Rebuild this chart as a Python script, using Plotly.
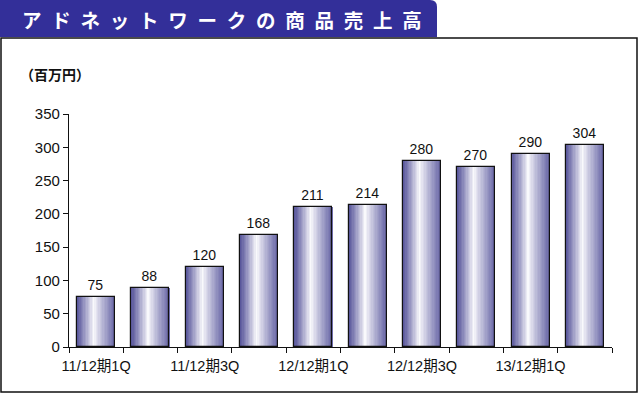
import plotly.graph_objects as go

categories = ["11/12期1Q", "11/12期2Q", "11/12期3Q", "11/12期4Q", "12/12期1Q",
              "12/12期2Q", "12/12期3Q", "12/12期4Q", "13/12期1Q", "13/12期2Q"]
values = [75, 88, 120, 168, 211, 214, 280, 270, 290, 304]
tick_labels = ["11/12期1Q", "", "11/12期3Q", "", "12/12期1Q",
               "", "12/12期3Q", "", "13/12期1Q", ""]
y_ticks = [0, 50, 100, 150, 200, 250, 300, 350]

W, H = 639, 394
L, R, T, B = 69, 27, 114, 47
PW, PH = W - L - R, H - T - B

def px(x):
    return (x - L) / PW

def py(y):
    return (H - B - y) / PH

def lerp(c1, c2, t):
    return tuple(round(a + (b - a) * t) for a, b in zip(c1, c2))

left_c = (84, 82, 152)
mid_c = (250, 250, 253)
right_c = (104, 102, 166)
white_pos = 0.45

fig = go.Figure()

bar_w = 0.70
N = 28
band = bar_w / N
for i in range(N):
    t = (i + 0.5) / N
    if t < white_pos:
        c = lerp(left_c, mid_c, (t / white_pos) ** 1.1)
    else:
        c = lerp(mid_c, right_c, ((t - white_pos) / (1 - white_pos)) ** 0.9)
    fig.add_trace(go.Bar(
        x=categories, y=values,
        width=band * 1.08, offset=-bar_w / 2 + i * band,
        marker=dict(color="rgb(%d,%d,%d)" % c, line=dict(width=0)),
        hoverinfo="skip", showlegend=False,
    ))

fig.add_trace(go.Bar(
    x=categories, y=values, width=bar_w, offset=-bar_w / 2,
    marker=dict(color="rgba(0,0,0,0)", line=dict(color="#111111", width=1.2)),
    text=[str(v) for v in values], textposition="outside",
    textfont=dict(size=14, color="#111111", family="Liberation Sans, Arial"),
    cliponaxis=False, showlegend=False,
))

shapes = [
    # outer frame
    dict(type="rect", xref="paper", yref="paper",
         x0=px(1), x1=px(637), y0=py(392), y1=py(38),
         line=dict(color="#111111", width=1.5), fillcolor="rgba(0,0,0,0)", layer="below"),
    # title banner with rounded top-right corner
    dict(type="path", xref="paper", yref="paper",
         path="M %f,%f L %f,%f L %f,%f Q %f,%f %f,%f L %f,%f Z" % (
             px(0), py(37), px(0), py(0), px(430), py(0),
             px(437), py(0), px(437), py(7), px(437), py(37)),
         fillcolor="#332f99", line=dict(width=0)),
]

annotations = [
    dict(text="<b>ア ド ネ ッ ト ワ ー ク の 商 品 売 上 高</b>".replace(" ", "\u2002"),
         xref="paper", yref="paper", x=px(20), y=py(19), xanchor="left", yanchor="middle",
         showarrow=False, font=dict(size=19.5, color="white", family="Noto Sans CJK JP")),
    dict(text="<b>（百万円）</b>", xref="paper", yref="paper",
         x=px(18), y=py(74), xanchor="left", yanchor="middle", showarrow=False,
         font=dict(size=14, color="#111111", family="Noto Sans CJK JP")),
]

fig.update_layout(
    width=W, height=H,
    margin=dict(l=L, r=R, t=T, b=B, autoexpand=False),
    paper_bgcolor="white", plot_bgcolor="white",
    barmode="overlay", bargap=0,
    shapes=shapes, annotations=annotations,
    font=dict(family="Liberation Sans, Noto Sans CJK JP", color="#111111"),
    xaxis=dict(
        type="category", tickmode="array", tickvals=categories, ticktext=tick_labels,
        tickson="boundaries", ticks="outside", ticklen=5, tickcolor="#111111",
        showline=True, linecolor="#111111", linewidth=1.2, showgrid=False,
        tickangle=0, automargin=False, ticklabelstandoff=5,
        tickfont=dict(size=14.5, family="Liberation Sans, Noto Sans CJK JP", color="#111111"),
        range=[-0.5, 9.5], fixedrange=True,
    ),
    yaxis=dict(
        range=[0, 350], tickvals=y_ticks, ticks="outside", ticklen=5, tickcolor="#111111",
        showline=True, linecolor="#111111", linewidth=1.2, showgrid=False, zeroline=False,
        automargin=False,
        tickfont=dict(size=15, family="Liberation Sans, Arial", color="#111111"),
        fixedrange=True,
    ),
)

fig.write_html("out.html", config={"displayModeBar": False},
               post_script="document.body.style.margin='0';document.body.style.overflow='hidden';")
